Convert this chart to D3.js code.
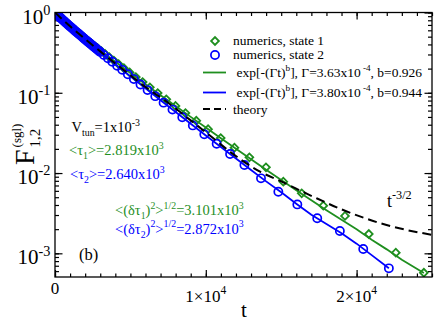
<!DOCTYPE html>
<html>
<head>
<meta charset="utf-8">
<script src="https://cdn.jsdelivr.net/npm/d3@7"></script>
<style>
  body { margin: 0; background: #fff; }
  svg { font-family: "Liberation Serif", "Times New Roman", serif; }
</style>
</head>
<body>
<div id="graf"></div>
<script>
// ---- data ----
const greenT = [0, 100, 200, 300, 400, 500, 600, 700, 800, 900, 1000, 1090, 1180, 1280, 1380, 1500, 1620, 1760, 1900, 2060,
  2230, 2420, 2620, 2830, 3070, 3320, 3600, 3900, 4220, 4570, 4950, 5360, 5810, 6290, 6810, 7380, 7990, 8650, 9370,
  10150, 10990, 11900, 12890, 13990, 15140, 16360, 17790, 19230, 20810, 22600, 24460]
const greenF = [1, 0.955, 0.916, 0.880, 0.846, 0.814, 0.784, 0.755, 0.727, 0.701, 0.676, 0.655, 0.634, 0.612, 0.590, 0.566,
  0.543, 0.517, 0.492, 0.466, 0.439, 0.412, 0.385, 0.359, 0.331, 0.305, 0.278, 0.252, 0.227, 0.202, 0.179, 0.157, 0.136,
  0.117, 0.0991, 0.0829, 0.0685, 0.0559, 0.0448, 0.0352, 0.0273, 0.0207, 0.0157, 0.0118, 0.0078, 0.00559, 0.00392,
  0.00292, 0.00174, 0.00102, 0.000573]

const blueT = [0, 50, 100, 150, 200, 250, 300, 350, 400, 500, 600, 700, 800, 900, 1000, 1100, 1200, 1300, 1400, 1500, 1600,
  1700, 1800, 1900, 2000, 2100, 2200, 2300, 2400, 2500, 2600, 2700, 2800, 2900, 3000, 3240, 3510, 3800, 4120, 4460,
  4830, 5230, 5670, 6140, 6650, 7200, 7790, 8440, 9140, 9900, 10720, 11610, 12560, 13660, 14810, 16070, 17390, 18890,
  20440, 22140]
const blueF = [1, 0.976, 0.955, 0.935, 0.916, 0.897, 0.879, 0.862, 0.845, 0.812, 0.781, 0.751, 0.723, 0.695, 0.670, 0.645,
  0.621, 0.598, 0.576, 0.555, 0.535, 0.516, 0.497, 0.479, 0.462, 0.446, 0.430, 0.4145, 0.400, 0.386, 0.372, 0.359,
  0.346, 0.334, 0.3225, 0.296, 0.269, 0.243, 0.217, 0.193, 0.170, 0.148, 0.127, 0.108, 0.0908, 0.0753, 0.0617, 0.0496,
  0.0392, 0.0304, 0.0232, 0.01725, 0.01258, 0.00859, 0.00585, 0.00407, 0.00273, 0.00190, 0.00113, 0.00065]

const greenFitT = [0, 500, 1000, 2000, 3000, 4000, 5000, 6000, 7000, 8000, 9000, 10000, 11000, 12000, 13000, 14000, 15000,
  16000, 17000, 18000, 19000, 20000, 21000, 22000, 23000, 24460]
const greenFitF = [1, 0.814, 0.676, 0.4755, 0.339, 0.2435, 0.176, 0.128, 0.0933, 0.0683, 0.0501, 0.0369, 0.0272, 0.0201,
  0.0149, 0.0110, 0.0082, 0.0061, 0.00458, 0.00345, 0.00262, 0.0020, 0.00148, 0.00112, 0.00083, 0.00057]

const blueFitT = [0, 500, 1000, 2000, 3000, 4000, 5000, 6000, 7000, 8000, 9000, 10000, 11000, 12000, 13000, 14000, 15000,
  16000, 17000, 18000, 19000, 20000, 21000, 22140]
const blueFitF = [1, 0.812, 0.670, 0.462, 0.3225, 0.2266, 0.160, 0.1133, 0.0806, 0.0575, 0.0411, 0.0294, 0.0211, 0.0152,
  0.0109, 0.00787, 0.00575, 0.00415, 0.00302, 0.00232, 0.00178, 0.00132, 0.00095, 0.00065]

const theoryT = [0, 1000, 2000, 3000, 4000, 5000, 6000, 7417, 9000, 10500, 11609, 13596, 15033, 17126, 19113, 21987, 25053]
const theoryF = [1, 0.672, 0.467, 0.328, 0.232, 0.165, 0.118, 0.0773, 0.0453, 0.0271, 0.0184, 0.0104, 0.0078, 0.00507,
  0.00346, 0.00225, 0.00169]

const xTickVals = [0, 10000, 20000]
const xTickMant = ["0", "1×10", "2×10"]
const xTickExp = ["", "4", "4"]
const yTickVals = [1, 0.1, 0.01, 0.001]
const yTickExp = ["0", "-1", "-2", "-3"]

const green = "#1f8f1f"
const blue = "#0000ff"

// ---- layout ----
const anchoTotal = 436
const altoTotal = 321
const L = 55, R = 432, T = 12.5, B = 277

const svg = d3.select("#graf").append("svg")
  .attr("width", anchoTotal).attr("height", altoTotal)

svg.append("rect").attr("width", anchoTotal).attr("height", altoTotal).attr("fill", "#fff")

// Escaladores
const x = d3.scaleLinear().domain([0, 25000]).range([L, R])
const y = d3.scaleLog().domain([5.07e-4, 1]).range([B, T])

svg.append("clipPath").attr("id", "clip")
  .append("rect").attr("x", L).attr("y", T).attr("width", R - L).attr("height", B - T)

// Ejes (ticks hacia adentro en los 4 lados)
const xMinor = d3.range(0, 25001, 1000)
const yMinor = y.ticks().filter(v => v >= 5.07e-4 && v <= 1)

const ejes = svg.append("g").attr("class", "ejes")
const addAxis = (axis, tx, ty) => {
  const g = ejes.append("g").attr("transform", `translate(${tx}, ${ty})`).call(axis)
  g.select(".domain").remove()
  g.selectAll("line").attr("stroke", "#000").attr("stroke-width", 1.2)
}
addAxis(d3.axisBottom(x).tickValues(xMinor).tickSize(-3.5).tickFormat(""), 0, B)
addAxis(d3.axisBottom(x).tickValues(xTickVals).tickSize(-7).tickFormat(""), 0, B)
addAxis(d3.axisTop(x).tickValues(xMinor).tickSize(-3.5).tickFormat(""), 0, T)
addAxis(d3.axisTop(x).tickValues(xTickVals).tickSize(-7).tickFormat(""), 0, T)
addAxis(d3.axisLeft(y).tickValues(yMinor).tickSize(-4).tickFormat(""), L, 0)
addAxis(d3.axisLeft(y).tickValues(yTickVals).tickSize(-7.5).tickFormat(""), L, 0)
addAxis(d3.axisRight(y).tickValues(yMinor).tickSize(-4).tickFormat(""), R, 0)
addAxis(d3.axisRight(y).tickValues(yTickVals).tickSize(-7.5).tickFormat(""), R, 0)

// texto con sub/superindices
const rich = (sel, px, py, parts, size, color, anchor) => {
  const t = sel.append("text").attr("x", px).attr("y", py)
    .attr("font-size", size).attr("fill", color || "#000")
    .attr("text-anchor", anchor || "start")
  let off = 0
  parts.forEach(p => {
    const s = typeof p === "string" ? { t: p } : p
    let target = 0, fs = size
    if (s.sup) { target = -0.42 * size; fs = 0.68 * size }
    if (s.sub) { target = 0.3 * size; fs = 0.68 * size }
    t.append("tspan").attr("dy", target - off).attr("font-size", fs).text(s.t)
    off = target
  })
  return t
}

// etiquetas de ejes
xTickVals.forEach((v, i) => {
  if (xTickExp[i] === "") rich(svg, x(v), 293.5, [xTickMant[i]], 17, "#000", "middle")
  else rich(svg, x(v), 301.5, [xTickMant[i], { t: xTickExp[i], sup: true }], 17, "#000", "middle")
})
yTickVals.forEach((v, i) => {
  rich(svg, 50.5, y(v) + 11, ["10", { t: yTickExp[i], sup: true }], 21, "#000", "end")
})

rich(svg, 244, 317, ["t"], 21, "#000", "middle")

const yt = svg.append("g").attr("transform", "translate(34, 165) rotate(-90)")
const fText = yt.append("text").attr("x", 0).attr("y", 0).attr("font-size", 28).text("F")
const fw = fText.node().getComputedTextLength()
yt.append("text").attr("x", fw + 2).attr("y", 6).attr("font-size", 15).text("1,2")
yt.append("text").attr("x", fw + 2).attr("y", -13).attr("font-size", 13).text("(sgl)")

// ---- marcas ----
const plot = svg.append("g").attr("clip-path", "url(#clip)")
const linea = d3.line().x(d => x(d[0])).y(d => y(d[1]))
const diamond = d3.symbol().type(d3.symbolSquare).size(30)

plot.selectAll("path.g1").data(d3.zip(greenT, greenF)).join("path")
  .attr("class", "g1")
  .attr("d", diamond)
  .attr("transform", d => `translate(${x(d[0])}, ${y(d[1])}) rotate(45)`)
  .attr("fill", "none").attr("stroke", green).attr("stroke-width", 1.8)

plot.append("path").datum(d3.zip(greenFitT, greenFitF))
  .attr("d", linea).attr("fill", "none").attr("stroke", green).attr("stroke-width", 1.8)

plot.selectAll("circle.b1").data(d3.zip(blueT, blueF)).join("circle")
  .attr("class", "b1")
  .attr("cx", d => x(d[0])).attr("cy", d => y(d[1])).attr("r", 4.1)
  .attr("fill", "none").attr("stroke", blue).attr("stroke-width", 1.7)

plot.append("path").datum(d3.zip(blueFitT, blueFitF))
  .attr("d", linea).attr("fill", "none").attr("stroke", blue).attr("stroke-width", 1.8)

plot.append("path").datum(d3.zip(theoryT, theoryF))
  .attr("d", d3.line().curve(d3.curveMonotoneX).x(d => x(d[0])).y(d => y(d[1])))
  .attr("fill", "none").attr("stroke", "#000").attr("stroke-width", 2)
  .attr("stroke-dasharray", "9,5")

svg.append("rect").attr("x", L).attr("y", T).attr("width", R - L).attr("height", B - T)
  .attr("fill", "none").attr("stroke", "#000").attr("stroke-width", 1.3)

// ---- leyenda ----
const ley = svg.append("g")
ley.append("path").attr("d", diamond).attr("transform", "translate(215, 41) rotate(45)")
  .attr("fill", "none").attr("stroke", green).attr("stroke-width", 1.8)
ley.append("circle").attr("cx", 215).attr("cy", 55).attr("r", 4.1)
  .attr("fill", "none").attr("stroke", blue).attr("stroke-width", 1.7)
ley.append("line").attr("x1", 203).attr("x2", 226).attr("y1", 72.5).attr("y2", 72.5)
  .attr("stroke", green).attr("stroke-width", 1.8)
ley.append("line").attr("x1", 203).attr("x2", 226).attr("y1", 92.5).attr("y2", 92.5)
  .attr("stroke", blue).attr("stroke-width", 1.8)
ley.append("line").attr("x1", 203).attr("x2", 226).attr("y1", 109).attr("y2", 109)
  .attr("stroke", "#000").attr("stroke-width", 2).attr("stroke-dasharray", "7,4")

rich(ley, 233, 45, ["numerics, state 1"], 13.5)
rich(ley, 233, 58.5, ["numerics, state 2"], 13.5)
rich(ley, 236.5, 77, ["exp[-(Γt)", { t: "b", sup: true }, "], Γ=3.63x10", { t: " -4", sup: true }, ", b=0.926"], 13.5)
rich(ley, 236.5, 97, ["exp[-(Γt)", { t: "b", sup: true }, "], Γ=3.80x10", { t: " -4", sup: true }, ", b=0.944"], 13.5)
rich(ley, 233, 113.5, ["theory"], 13.5)

// ---- anotaciones ----
rich(svg, 71.5, 132, ["V", { t: "tun", sub: true }, "=1x10", { t: "-3", sup: true }], 14.5)
rich(svg, 69, 155, ["<τ", { t: "1", sub: true }, ">=2.819x10", { t: "3", sup: true }], 14.5, green)
rich(svg, 70, 179, ["<τ", { t: "2", sub: true }, ">=2.640x10", { t: "3", sup: true }], 14.5, blue)
rich(svg, 115, 215, ["<(δτ", { t: "1", sub: true }, ")", { t: "2", sup: true }, ">", { t: "1/2", sup: true },
  "=3.101x10", { t: "3", sup: true }], 14.5, green)
rich(svg, 115, 233.5, ["<(δτ", { t: "2", sub: true }, ")", { t: "2", sup: true }, ">", { t: "1/2", sup: true },
  "=2.872x10", { t: "3", sup: true }], 14.5, blue)
rich(svg, 79, 260, ["(b)"], 16.5)
rich(svg, 387, 207, ["t", { t: "-3/2", sup: true }], 18)
</script>
</body>
</html>
